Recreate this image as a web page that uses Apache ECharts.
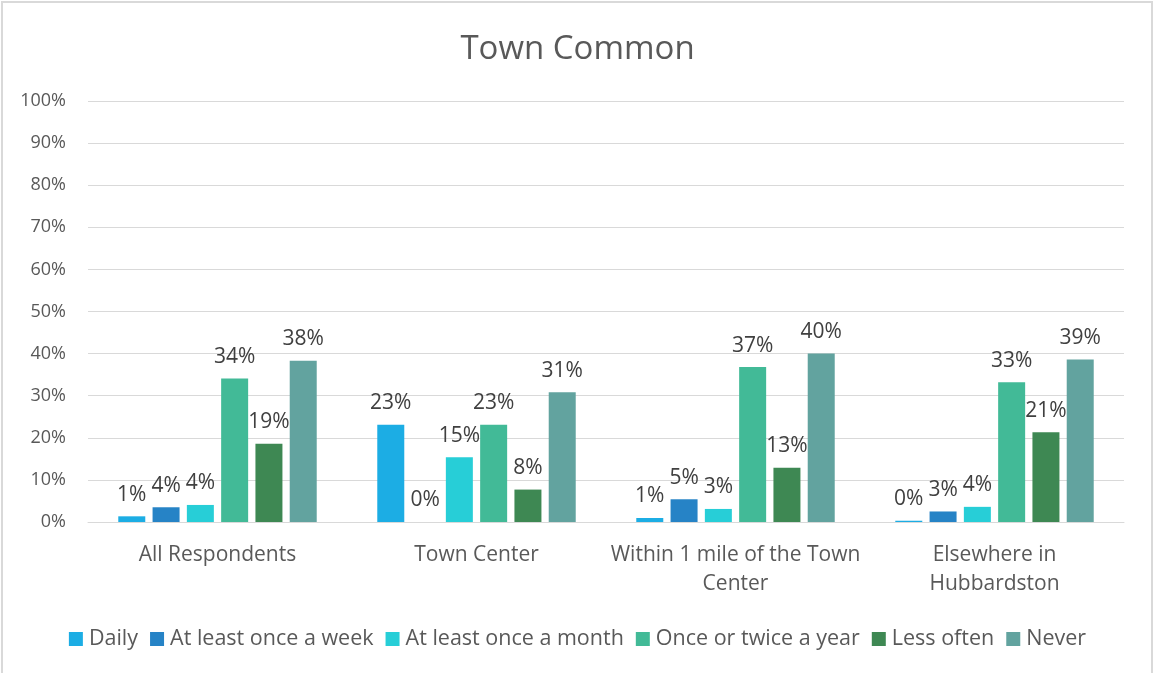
<!DOCTYPE html>
<html>
<head>
<meta charset="utf-8">
<script src="https://cdn.jsdelivr.net/npm/echarts@6/dist/echarts.min.js"></script>
<style>
  html, body { margin: 0; padding: 0; background: #fff; }
  #frame { position: absolute; left: 1px; top: 1px; width: 1152px; height: 690px; border: 2px solid #d9d9d9; box-sizing: border-box; }
  #chart { position: absolute; left: 0; top: 0; width: 1155px; height: 673px; }
</style>
</head>
<body>
<div id="frame"></div>
<div id="chart"></div>
<script>
const categories = ['All Respondents', 'Town Center', 'Within 1 mile of the Town\nCenter', 'Elsewhere in\nHubbardston'];
const seriesNames = ['Daily', 'At least once a week', 'At least once a month', 'Once or twice a year', 'Less often', 'Never'];
const daily   = [1.35, 23.1, 0.95, 0.3];
const weekly  = [3.5, 0, 5.4, 2.5];
const monthly = [4.05, 15.4, 3.1, 3.6];
const yearly  = [34.1, 23.1, 36.8, 33.2];
const less    = [18.6, 7.7, 12.9, 21.3];
const never   = [38.3, 30.8, 40.0, 38.6];
const yTicks = { min: 0, max: 100, interval: 10 };
const colors = ['#1CADE4', '#2683C6', '#27CED7', '#42BA97', '#3E8853', '#62A39F'];

const values = [daily, weekly, monthly, yearly, less, never];
const FONT = '"Open Sans", sans-serif';

const chart = echarts.init(document.getElementById('chart'));
chart.setOption({
  backgroundColor: 'transparent',
  color: colors,
  title: {
    text: 'Town Common',
    left: 'center',
    top: 28,
    textStyle: { fontFamily: FONT, fontSize: 33, fontWeight: 'normal', color: '#595959' }
  },
  legend: {
    top: 623,
    left: 'center',
    icon: 'rect',
    itemWidth: 14,
    itemHeight: 14,
    itemGap: 12,
    textStyle: { fontFamily: FONT, fontSize: 21.5, color: '#595959', padding: [0, 0, 0, 1] },
    data: seriesNames
  },
  grid: { left: 88, right: 31, top: 101, bottom: 151, containLabel: false },
  xAxis: {
    type: 'category',
    data: categories,
    axisLine: { lineStyle: { color: '#d9d9d9', width: 1 } },
    axisTick: { show: false },
    axisLabel: { interval: 0, fontFamily: FONT, fontSize: 21, color: '#595959', lineHeight: 29, margin: 19 }
  },
  yAxis: {
    type: 'value',
    min: yTicks.min, max: yTicks.max, interval: yTicks.interval,
    axisLine: { show: false },
    axisTick: { show: false },
    splitLine: { lineStyle: { color: '#d9d9d9', width: 1 } },
    axisLabel: { fontFamily: FONT, fontSize: 18, color: '#595959', formatter: '{value}%', margin: 22 }
  },
  series: seriesNames.map((name, i) => ({
    name: name,
    type: 'bar',
    data: values[i],
    barWidth: 27,
    barGap: '27%',
    barCategoryGap: '23%',
    itemStyle: { color: colors[i] },
    label: {
      show: true,
      position: 'top',
      distance: 11,
      fontFamily: FONT,
      fontSize: 21,
      color: '#404040',
      formatter: p => Math.round(p.value) + '%'
    }
  }))
});
</script>
</body>
</html>
